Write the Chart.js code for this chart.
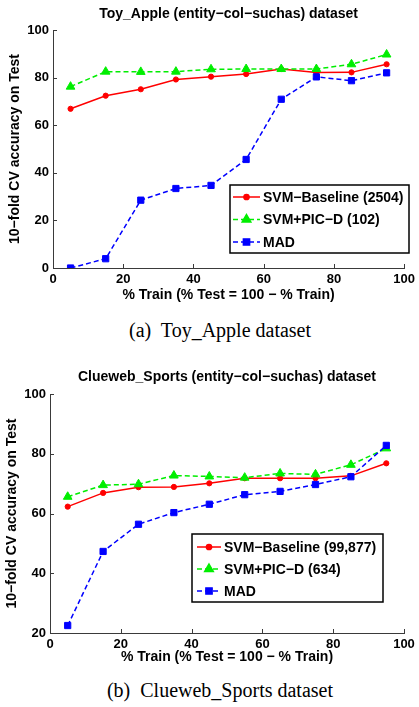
<!DOCTYPE html>
<html><head><meta charset="utf-8">
<script src="https://cdn.jsdelivr.net/npm/chart.js@4.4.1/dist/chart.umd.min.js"></script>
<style>
body{margin:0;background:#fff;width:419px;height:707px;position:relative;overflow:hidden;}
.wrap{position:absolute;left:0;width:419px;}
.cap{position:absolute;left:21px;width:398px;text-align:center;font-family:"Liberation Serif","Times New Roman",serif;font-size:20px;line-height:24px;color:#000;white-space:pre;}
</style></head><body>
<div class="wrap" style="top:0;height:310px"><canvas id="c1" width="419" height="310"></canvas></div>
<div class="cap" style="top:318px">(a)  Toy_Apple dataset</div>
<div class="wrap" style="top:350px;height:320px"><canvas id="c2" width="419" height="320"></canvas></div>
<div class="cap" style="top:678px">(b)  Clueweb_Sports dataset</div>
<script>
// ---- data ----
const trainPct = [5, 15, 25, 35, 45, 55, 65, 75, 85, 95];
const xTicks = [0, 20, 40, 60, 80, 100];

const toyBaseline = [66.9, 72.4, 75.1, 79.2, 80.4, 81.5, 83.6, 82.1, 82.2, 85.6];
const toyPicD     = [76.2, 82.5, 82.4, 82.5, 83.5, 83.6, 83.6, 83.6, 85.6, 89.7];
const toyMad      = [0.0, 3.9, 28.5, 33.4, 34.7, 45.6, 70.9, 80.3, 78.7, 82.0];
const toyYTicks   = [0, 20, 40, 60, 80, 100];

const sportsBaseline = [62.3, 66.9, 68.8, 68.9, 70.1, 71.8, 71.8, 71.8, 72.6, 76.8];
const sportsPicD     = [65.6, 69.5, 69.8, 72.7, 72.4, 72.0, 73.4, 73.1, 76.3, 81.8];
const sportsMad      = [22.5, 47.3, 56.4, 60.3, 63.1, 66.3, 67.4, 69.7, 72.3, 82.8];
const sportsYTicks   = [20, 40, 60, 80, 100];

const toyLabels    = ['SVM\u2212Baseline (2504)', 'SVM+PIC\u2212D (102)', 'MAD'];
const sportsLabels = ['SVM\u2212Baseline (99,877)', 'SVM+PIC\u2212D (634)', 'MAD'];

const toyTitle = 'Toy_Apple (entity\u2212col\u2212suchas) dataset';
const sportsTitle = 'Clueweb_Sports (entity\u2212col\u2212suchas) dataset';
const xTitle = '% Train (% Test = 100 \u2212 % Train)';
const yTitle = '10\u2212fold CV accuracy on Test';

// ---- styling ----
const FONT = '"Liberation Sans", Arial, Helvetica, sans-serif';
Chart.defaults.font.family = FONT;
Chart.defaults.color = '#000';
const AXIS = '#3a3a3a';

const pts = (arr) => arr.map((v, i) => ({x: trainPct[i], y: v}));

function makeDatasets(b, p, m, labels) {
  return [
    {label: labels[0], data: pts(b), borderColor: '#ff0000', backgroundColor: '#ff0000',
     borderWidth: 1.5, pointStyle: 'circle', pointRadius: 2.6, pointBorderWidth: 1, order: 3},
    {label: labels[1], data: pts(p), borderColor: '#00ee00', backgroundColor: '#00ee00',
     borderWidth: 1.5, borderDash: [5, 3], pointStyle: 'triangle', pointRadius: 5, pointBorderWidth: 1, order: 2},
    {label: labels[2], data: pts(m), borderColor: '#0000ff', backgroundColor: '#0000ff',
     borderWidth: 1.5, borderDash: [5, 3], pointStyle: 'rect', pointRadius: 4.4, pointBorderWidth: 1, order: 1}
  ];
}

const inwardTicks = {
  id: 'inwardTicks',
  afterDatasetsDraw(chart) {
    const {ctx, chartArea: a, scales: {x, y}} = chart;
    ctx.save();
    ctx.strokeStyle = AXIS; ctx.lineWidth = 1;
    x.ticks.forEach(t => {
      const px = Math.round(x.getPixelForValue(t.value)) + 0.5;
      ctx.beginPath(); ctx.moveTo(px, a.bottom); ctx.lineTo(px, a.bottom - 4); ctx.stroke();
    });
    y.ticks.forEach(t => {
      const py = Math.round(y.getPixelForValue(t.value)) + 0.5;
      ctx.beginPath(); ctx.moveTo(a.left, py); ctx.lineTo(a.left + 4, py); ctx.stroke();
    });
    ctx.restore();
  }
};

// title centred over the plot area (as in the original figure)
const areaTitle = {
  id: 'areaTitle',
  afterDraw(chart, args, o) {
    const {ctx, chartArea: a} = chart;
    ctx.save();
    ctx.fillStyle = '#000';
    ctx.font = 'bold 14px ' + FONT;
    ctx.textAlign = 'center'; ctx.textBaseline = 'middle';
    ctx.fillText(o.text, (a.left + a.right) / 2, o.y);
    ctx.restore();
  }
};

const boxLegend = {
  id: 'boxLegend',
  afterDraw(chart, args, o) {
    const {ctx} = chart;
    ctx.save();
    ctx.fillStyle = '#fff';
    ctx.fillRect(o.x, o.y, o.w, o.h);
    ctx.strokeStyle = '#000'; ctx.lineWidth = 1.5;
    ctx.strokeRect(o.x, o.y, o.w, o.h);
    chart.data.datasets.forEach((ds, i) => {
      const cy = o.y + o.rowTop + i * o.rowGap;
      ctx.strokeStyle = ds.borderColor; ctx.lineWidth = ds.borderWidth;
      ctx.setLineDash(ds.borderDash || []);
      ctx.beginPath(); ctx.moveTo(o.x + o.s0, cy); ctx.lineTo(o.x + o.s1, cy); ctx.stroke();
      ctx.setLineDash([]);
      ctx.fillStyle = ds.backgroundColor; ctx.strokeStyle = ds.borderColor;
      Chart.helpers.drawPoint(ctx, {pointStyle: ds.pointStyle, rotation: 0, radius: ds.pointRadius, borderWidth: 1},
        o.x + (o.s0 + o.s1) / 2, cy);
      ctx.fillStyle = '#000';
      ctx.font = 'bold 14px ' + FONT;
      ctx.textBaseline = 'middle'; ctx.textAlign = 'left';
      ctx.fillText(ds.label, o.x + o.tx, cy + 1);
    });
    ctx.restore();
  }
};

function makeChart(id, cfg) {
  return new Chart(document.getElementById(id), {
    type: 'line',
    data: {datasets: makeDatasets(cfg.b, cfg.p, cfg.m, cfg.labels)},
    options: {
      responsive: false, animation: false,
      layout: {padding: {left: 0, right: cfg.padRight, top: cfg.padTop, bottom: 0}},
      plugins: {
        legend: {display: false}, tooltip: {enabled: false}, title: {display: false},
        areaTitle: {text: cfg.title, y: cfg.titleY},
        boxLegend: cfg.legend
      },
      scales: {
        x: {type: 'linear', min: 0, max: 100,
          afterBuildTicks: s => { s.ticks = xTicks.map(v => ({value: v})); },
          afterFit: s => { s.height = cfg.xHeight; },
          grid: {display: true, drawOnChartArea: false, drawTicks: false},
          border: {display: true, color: AXIS, width: 1},
          ticks: {padding: 4, color: '#000', font: {size: 13, weight: 'bold'}, maxRotation: 0},
          title: {display: true, text: xTitle, color: '#000', font: {size: 14, weight: 'bold'},
            padding: {top: 0, bottom: cfg.xTitlePad}}
        },
        y: {type: 'linear', min: cfg.yTicks[0], max: cfg.yTicks[cfg.yTicks.length - 1],
          afterBuildTicks: s => { s.ticks = cfg.yTicks.map(v => ({value: v})); },
          afterFit: s => { s.width = cfg.yWidth; },
          grid: {display: true, drawOnChartArea: false, drawTicks: false},
          border: {display: true, color: AXIS, width: 1},
          ticks: {padding: 4, color: '#000', font: {size: 13, weight: 'bold'}},
          title: {display: true, text: yTitle, color: '#000', font: {size: 14, weight: 'bold'},
            padding: {top: cfg.yTitlePad, bottom: 0}}
        }
      }
    },
    plugins: [inwardTicks, areaTitle, boxLegend]
  });
}

makeChart('c1', {
  b: toyBaseline, p: toyPicD, m: toyMad, labels: toyLabels, title: toyTitle, yTicks: toyYTicks,
  padRight: 11, padTop: 30, titleY: 14, xHeight: 42, yWidth: 53, xTitlePad: 6.6, yTitlePad: 6.6,
  legend: {x: 230, y: 185, w: 179, h: 68, rowTop: 12, rowGap: 22.5, s0: 3, s1: 30, tx: 33}
});

makeChart('c2', {
  b: sportsBaseline, p: sportsPicD, m: sportsMad, labels: sportsLabels, title: sportsTitle, yTicks: sportsYTicks,
  padRight: 15, padTop: 44, titleY: 27, xHeight: 37, yWidth: 50, xTitlePad: 4.6, yTitlePad: 4,
  legend: {x: 192, y: 184, w: 191, h: 68, rowTop: 13, rowGap: 22, s0: 5, s1: 29, tx: 32}
});
</script>
</body></html>
